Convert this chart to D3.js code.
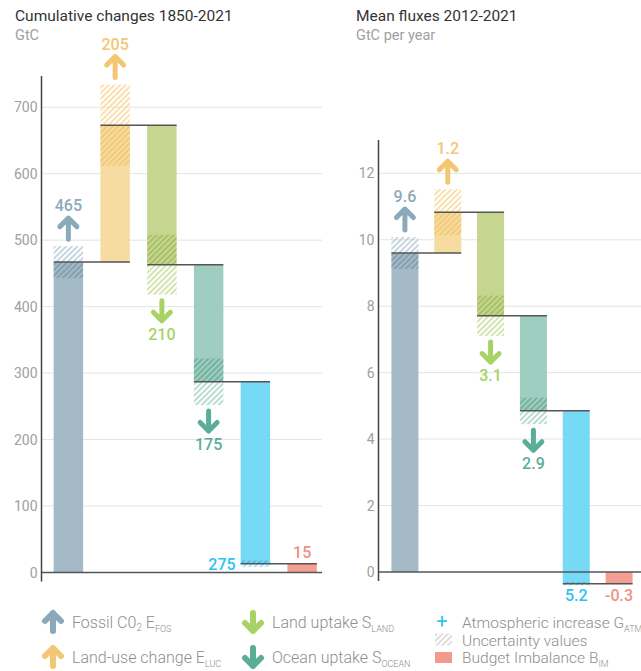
<!DOCTYPE html>
<html><head><meta charset="utf-8">
<script src="https://cdn.jsdelivr.net/npm/d3@7"></script>
<style>
body{margin:0;background:#fff}
svg{display:block}
text{font-family:Roboto,"Open Sans",sans-serif}
</style>
</head><body>
<svg id="c" width="641" height="671"></svg>
<script>
// ---------- data ----------
const categories = ["fos", "luc", "land", "ocean", "atm", "bim"];
const cumValues = [467, 206, -210, -176, -274, 14];
const cumUnc = [24, 61, 45, 35, 5, 0];
const cumLabels = ["465", "205", "210", "175", "275", "15"];
const cumTicks = [0, 100, 200, 300, 400, 500, 600, 700];

const fluxValues = [9.6, 1.23, -3.12, -2.86, -5.2, -0.35];
const fluxUnc = [0.48, 0.69, 0.61, 0.4, 0.05, 0];
const fluxLabels = ["9.6", "1.2", "3.1", "2.9", "5.2", "-0.3"];
const fluxTicks = [0, 2, 4, 6, 8, 10, 12];

const barColors = ["#9fb6c4", "#f6da9c", "#c3d48b", "#9acbbd", "#6fd7f5", "#f29a8b"];
const darkHatch = ["#6f8e9f", "#efbd5c", "#93b24a", "#5b9e89", "#2aa8d2", "#e07b6b"];
const lightHatch = ["#b9ccd7", "#f8d99a", "#c9de9a", "#a9d4c7", "#8fdcf5", "#f5b0a5"];
const arrowColors = ["#8aaabb", "#f3c772", "#a8d266", "#5aae98", "#2ec3ef", "#f2907f"];

const legendItems = [
  {name: "Fossil C0", sub2: "2", tail: " E", sub: "FOS", kind: "up", c: 0, col: 0, row: 0, fs: 16},
  {name: "Land-use change E", sub: "LUC", kind: "up", c: 1, col: 0, row: 2, fs: 16},
  {name: "Land uptake S", sub: "LAND", kind: "down", c: 2, col: 1, row: 0, fs: 16},
  {name: "Ocean uptake S", sub: "OCEAN", kind: "down", c: 3, col: 1, row: 2, fs: 16},
  {name: "Atmospheric increase G", sub: "ATM", kind: "plus", c: 4, col: 2, row: 0, fs: 15.5},
  {name: "Uncertainty values", sub: "", kind: "hatch", c: 0, col: 2, row: 1, fs: 15.5},
  {name: "Budget Imbalance B", sub: "IM", kind: "rect", c: 5, col: 2, row: 2, fs: 15.5}
];

const svg = d3.select("#c");
const defs = svg.append("defs");
function pattern(id, color, op) {
  const p = defs.append("pattern").attr("id", id).attr("patternUnits", "userSpaceOnUse")
    .attr("width", 4).attr("height", 4).attr("patternTransform", "rotate(45)");
  p.append("line").attr("x1", 1).attr("x2", 1).attr("y1", 0).attr("y2", 4)
    .attr("stroke", color).attr("stroke-width", 1.6).attr("stroke-opacity", op);
}
categories.forEach((c, i) => {
  pattern("dk" + i, darkHatch[i], 0.75);
  pattern("lt" + i, lightHatch[i], 1);
});
pattern("legh", "#d6d6d6", 1);

function arrowPath(cx, y1, y2, hw) {
  const dir = y2 < y1 ? 1 : -1;
  return `M${cx},${y1}L${cx},${y2}M${cx - hw},${y2 + dir * hw}L${cx},${y2}L${cx + hw},${y2 + dir * hw}`;
}

function panel(opt) {
  const {x0, x1, y, values, unc, labels, ticks, axisTop, gridRight, title, unit, tx} = opt;
  const g = svg.append("g");
  const xb = d3.scaleBand().domain(categories).range([x0, x1]).paddingInner(0.37).paddingOuter(0.185);
  const axisX = opt.axisX;
  g.selectAll(".grid").data(ticks.filter(t => t !== 0)).join("line")
    .attr("x1", axisX).attr("x2", gridRight).attr("y1", d => y(d)).attr("y2", d => y(d))
    .attr("stroke", "#e4e4e4").attr("stroke-width", 1);
  g.selectAll(".tl").data(ticks).join("text")
    .attr("x", axisX - 4).attr("y", d => y(d) + 5).attr("text-anchor", "end")
    .attr("font-size", 14).attr("fill", "#a0a0a0").text(d => d);

  let run = 0;
  const segs = values.map((v, i) => {
    let s, e;
    if (i < values.length - 1) { s = run; e = run + v; run = e; }
    else { s = 0; e = v; }
    return {i, s, e, v, u: unc[i], lab: labels[i]};
  });
  segs.forEach(d => {
    const bx = xb(categories[d.i]), bw = xb.bandwidth();
    g.append("rect").attr("x", bx).attr("width", bw)
      .attr("y", y(Math.max(d.s, d.e))).attr("height", Math.abs(y(d.s) - y(d.e)))
      .attr("fill", barColors[d.i]).attr("fill-opacity", 0.95);
    if (d.u > 0) {
      const up = d.e > d.s;
      const inside = up ? [d.e - d.u, d.e] : [d.e, d.e + d.u];
      const outside = up ? [d.e, d.e + d.u] : [d.e - d.u, d.e];
      g.append("rect").attr("x", bx).attr("width", bw)
        .attr("y", y(inside[1])).attr("height", y(inside[0]) - y(inside[1]))
        .attr("fill", "url(#dk" + d.i + ")");
      g.append("rect").attr("x", bx).attr("width", bw)
        .attr("y", y(outside[1])).attr("height", y(outside[0]) - y(outside[1]))
        .attr("fill", "url(#lt" + d.i + ")");
    }
  });
  g.append("line").attr("x1", axisX).attr("x2", gridRight).attr("y1", y(0)).attr("y2", y(0))
    .attr("stroke", "#555").attr("stroke-width", 1.5);
  g.append("line").attr("x1", axisX).attr("x2", axisX).attr("y1", y(axisTop)).attr("y2", y(0) + 9)
    .attr("stroke", "#444").attr("stroke-width", 1.5);
  segs.forEach(d => {
    if (d.i >= segs.length - 1) return;
    const n = categories[d.i + 1];
    g.append("line").attr("x1", xb(categories[d.i])).attr("x2", xb(n) + xb.bandwidth())
      .attr("y1", y(d.e)).attr("y2", y(d.e)).attr("stroke", "#555").attr("stroke-width", 1.5);
  });
  segs.forEach(d => {
    const cx = xb(categories[d.i]) + xb.bandwidth() / 2;
    if (d.i <= 3) {
      const up = d.e > d.s;
      const yo = up ? y(d.e + d.u) : y(d.e - d.u);
      let y1, y2, ly;
      if (up) { y1 = yo - 7; y2 = y1 - 21; ly = y2 - 12.5 + 5.5; }
      else { y1 = yo + 6; y2 = y1 + 20; ly = y2 + 13.5 + 5.5; }
      g.append("path").attr("d", arrowPath(cx, y1, y2, 8.5)).attr("fill", "none")
        .attr("stroke", arrowColors[d.i]).attr("stroke-width", 5)
        .attr("stroke-linecap", "round").attr("stroke-linejoin", "round");
      g.append("text").attr("x", cx).attr("y", ly).attr("text-anchor", "middle")
        .attr("font-size", 16).attr("font-weight", 500).attr("fill", arrowColors[d.i]).text(d.lab);
    } else {
      const p = opt.labelPos(d, xb, cx);
      g.append("text").attr("x", p.x).attr("y", p.y).attr("text-anchor", p.a)
        .attr("font-size", 16).attr("font-weight", 500).attr("fill", arrowColors[d.i]).text(d.lab);
    }
  });
  g.append("text").attr("x", tx).attr("y", 21).attr("font-size", 15.5).attr("fill", "#333").text(title);
  g.append("text").attr("x", tx).attr("y", 39.5).attr("font-size", 14.5).attr("fill", "#a0a0a0").text(unit);
}

const yL = d3.scaleLinear().domain([0, 700]).range([572.5, 107.2]);
panel({x0: 45, x1: 325.5, y: yL, values: cumValues, unc: cumUnc, labels: cumLabels, ticks: cumTicks,
  axisTop: 747, axisX: 41.5, gridRight: 322, title: "Cumulative changes 1850-2021", unit: "GtC", tx: 15,
  labelPos: (d, xb, cx) => d.i === 4
    ? {x: xb(categories[4]) - 5, y: yL(d.e) + 6, a: "end"}
    : {x: cx, y: yL(d.e) - 5, a: "middle"}});

const yR = d3.scaleLinear().domain([0, 12]).range([572, 173.3]);
panel({x0: 383.5, x1: 640.5, y: yR, values: fluxValues, unc: fluxUnc, labels: fluxLabels, ticks: fluxTicks,
  axisTop: 13, axisX: 378.5, gridRight: 641, title: "Mean fluxes 2012-2021", unit: "GtC per year", tx: 356,
  labelPos: (d, xb, cx) => ({x: cx, y: 601, a: "middle"})});

// ---------- legend ----------
const colX = [53, 253, 443];
const rowY = [628, 645.5, 663];
const lg = svg.append("g");
legendItems.forEach(it => {
  const cx = colX[it.col], by = rowY[it.row], cy = by - 6;
  if (it.kind === "up" || it.kind === "down") {
    const up = it.kind === "up";
    const y1 = up ? cy + 9 : cy - 9, y2 = up ? cy - 9 : cy + 9;
    lg.append("path").attr("d", arrowPath(cx, y1, y2, 8)).attr("fill", "none")
      .attr("stroke", arrowColors[it.c]).attr("stroke-width", 6)
      .attr("stroke-linecap", "round").attr("stroke-linejoin", "round");
  } else if (it.kind === "plus") {
    lg.append("text").attr("x", cx - 1).attr("y", by).attr("text-anchor", "middle")
      .attr("font-size", 20).attr("fill", arrowColors[4]).text("+");
  } else if (it.kind === "hatch") {
    lg.append("rect").attr("x", cx - 8).attr("y", cy - 6).attr("width", 17).attr("height", 12)
      .attr("fill", "url(#legh)");
  } else {
    lg.append("rect").attr("x", cx - 8).attr("y", cy - 5).attr("width", 17).attr("height", 11)
      .attr("fill", barColors[5]);
  }
  const t = lg.append("text").attr("x", cx + 19).attr("y", by).attr("font-size", it.fs)
    .attr("fill", "#8e8e8e").attr("font-weight", 300);
  t.append("tspan").text(it.name);
  if (it.sub2) {
    t.append("tspan").attr("font-size", 10).attr("dy", 3).text(it.sub2);
    t.append("tspan").attr("dy", -3).text(it.tail);
  }
  if (it.sub) t.append("tspan").attr("font-size", 9).attr("dy", 4).text(it.sub);
});
</script>
</body></html>
